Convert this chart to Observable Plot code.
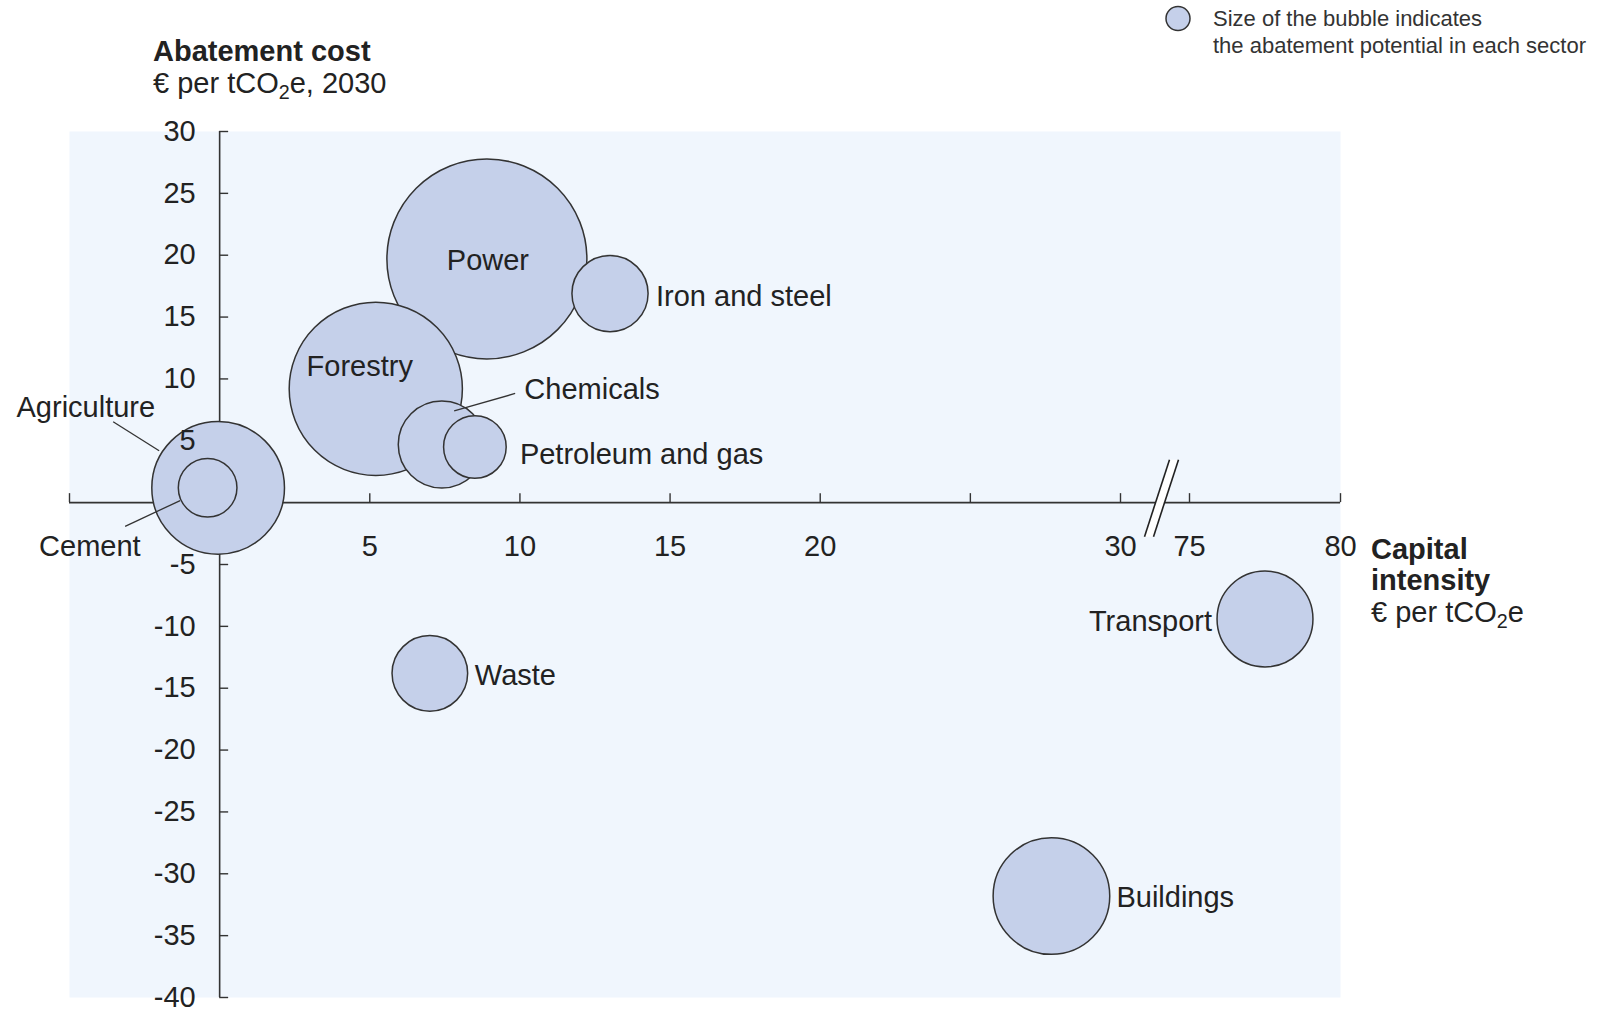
<!DOCTYPE html>
<html>
<head>
<meta charset="utf-8">
<script src="https://cdn.jsdelivr.net/npm/d3@7"></script>
<script src="https://cdn.jsdelivr.net/npm/@observablehq/plot@0.6"></script>
<style>
  html, body { margin: 0; padding: 0; background: #ffffff; }
  body { font-family: "Liberation Sans", Arial, sans-serif; }
  #wrap { position: relative; width: 1602px; height: 1009px; overflow: hidden; }
  #wrap svg.plot { position: absolute; left: 0; top: 0; }
  .t { position: absolute; white-space: nowrap; color: #222; line-height: 1; font-size: 29px; }
  .b { font-weight: bold; }
  .sub { font-size: 0.68em; position: relative; top: 0.3em; }
  .leg { font-size: 22px; color: #333; }
</style>
</head>
<body>
<div id="wrap">
  <div class="t b" style="left:153px; top:37px;">Abatement cost</div>
  <div class="t" style="left:153px; top:69px;">€ per tCO<span class="sub">2</span>e, 2030</div>

  <svg style="position:absolute; left:1160px; top:0px;" width="40" height="40">
    <circle cx="18" cy="18.5" r="12" fill="#c5d0ea" stroke="#333" stroke-width="1.5"></circle>
  </svg>
  <div class="t leg" style="left:1213px; top:8px;">Size of the bubble indicates</div>
  <div class="t leg" style="left:1213px; top:35px;">the abatement potential in each sector</div>

  <div class="t b" style="left:1371px; top:535px;">Capital</div>
  <div class="t b" style="left:1371px; top:566px;">intensity</div>
  <div class="t" style="left:1371px; top:598px;">€ per tCO<span class="sub">2</span>e</div>
</div>
<script>
// ---- data ----
const sectors = ["Power", "Forestry", "Agriculture", "Buildings", "Transport", "Chemicals", "Iron and steel", "Waste", "Petroleum and gas", "Cement"];
const capitalIntensity = [8.9, 5.2, -0.05, 27.7, 77.5, 7.4, 13.0, 7.0, 8.5, -0.4];   // € per tCO2e
const abatementCost = [19.7, 9.2, 1.2, -31.8, -9.4, 4.7, 16.9, -13.8, 4.5, 1.2];      // € per tCO2e, 2030
const abatementPotential = [100, 75, 44, 34, 23, 19, 14.5, 14.3, 9.8, 8.6];           // relative bubble size

const xTicks = [-5, 0, 5, 10, 15, 20, 25, 30, 75, 80];
const xTickLabels = [5, 10, 15, 20, 30, 75, 80];
const yTicks = [30, 25, 20, 15, 10, 5, 0, -5, -10, -15, -20, -25, -30, -35, -40];
const yTickLabels = [30, 25, 20, 15, 10, 5, -5, -10, -15, -20, -25, -30, -35, -40];
const axisBreak = [30, 75];

// ---- label layout (pixel offsets from bubble centre) ----
const labelLayout = {
  "Power":            {anchor: "middle", dx: 1,    dy: 2},
  "Forestry":         {anchor: "middle", dx: -16,  dy: -22},
  "Agriculture":      {anchor: "end",    dx: -63,  dy: -80, leader: [[-58.5, -36.5], [-104.5, -65.5]]},
  "Cement":           {anchor: "end",    dx: -67,  dy: 59,  leader: [[-27, 13.3], [-82, 39]]},
  "Chemicals":        {anchor: "start",  dx: 82.5, dy: -54.5, leader: [[12.8, -33.1], [73.8, -50.5]]},
  "Petroleum and gas":{anchor: "start",  dx: 45,   dy: 7.5},
  "Iron and steel":   {anchor: "start",  dx: 46,   dy: 3},
  "Waste":            {anchor: "start",  dx: 45,   dy: 2},
  "Transport":        {anchor: "end",    dx: -53,  dy: 2.5},
  "Buildings":        {anchor: "start",  dx: 65,   dy: 2}
};

const rows = sectors.map((s, i) => ({sector: s, x: capitalIntensity[i], y: abatementCost[i], potential: abatementPotential[i]}));

const ink = "#222";
const axisInk = "#333";
const bubbleFill = "#c5d0ea";

const overlay = (index, scales) => {
  const g = d3.create("svg:g");
  // leader lines
  for (const d of rows) {
    const L = labelLayout[d.sector];
    if (!L.leader) continue;
    const cx = scales.x(d.x), cy = scales.y(d.y);
    g.append("line")
      .attr("x1", cx + L.leader[0][0]).attr("y1", cy + L.leader[0][1])
      .attr("x2", cx + L.leader[1][0]).attr("y2", cy + L.leader[1][1])
      .attr("stroke", axisInk).attr("stroke-width", 1.3);
  }
  // axis break marks
  const bx = (scales.x(axisBreak[0]) + scales.x(axisBreak[1])) / 2 + 7;
  const by = scales.y(0) - 4;
  const hx = 12.5, hy = 38.5, sep = 4.5;
  g.append("polygon")
    .attr("points", [
      [bx - sep - hx, by + hy], [bx - sep + hx, by - hy],
      [bx + sep + hx, by - hy], [bx + sep - hx, by + hy]
    ].map(p => p.join(",")).join(" "))
    .attr("fill", "#ffffff");
  for (const s of [-sep, sep]) {
    g.append("line")
      .attr("x1", bx + s - hx).attr("y1", by + hy)
      .attr("x2", bx + s + hx).attr("y2", by - hy)
      .attr("stroke", ink).attr("stroke-width", 1.6);
  }
  return g.node();
};

const labelMarks = rows.map(d => {
  const L = labelLayout[d.sector];
  return Plot.text([d], {x: "x", y: "y", text: "sector", textAnchor: L.anchor, dx: L.dx, dy: L.dy, fill: ink, fontSize: 29});
});

const chart = Plot.plot({
  width: 1602,
  height: 1009,
  marginLeft: 69,
  marginRight: 262,
  marginTop: 131,
  marginBottom: 12,
  x: {type: "linear", domain: [-5, 30, 75, 80], range: [69, 1120, 1189, 1340], axis: null},
  y: {domain: [-40, 30], axis: null},
  r: {type: "sqrt", domain: [0, 100], range: [0, 100]},
  style: {fontFamily: '"Liberation Sans", Arial, sans-serif', fontSize: "29px", color: ink, background: "transparent", overflow: "visible"},
  marks: [
    Plot.frame({fill: "#f0f6fd", stroke: null}),
    // axes lines
    Plot.ruleY([0], {x1: -5, x2: 80, stroke: axisInk, strokeWidth: 1.6}),
    Plot.ruleX([0], {y1: -40, y2: 30, stroke: axisInk, strokeWidth: 1.6}),
    // ticks
    Plot.ruleX(xTicks, {x: d => d, y1: 0, y2: 0, insetTop: -9, stroke: axisInk, strokeWidth: 1.4}),
    Plot.ruleY(yTicks, {y: d => d, x1: 0, x2: 0, insetRight: -9, stroke: axisInk, strokeWidth: 1.4}),
    // bubbles
    Plot.dot(rows, {x: "x", y: "y", r: "potential", fill: bubbleFill, fillOpacity: 1, stroke: axisInk, strokeWidth: 1.5}),
    // tick labels
    Plot.text(yTickLabels, {x: 0, y: d => d, text: d => String(d), textAnchor: "end", dx: -24, fill: ink, fontSize: 29}),
    Plot.text(xTickLabels, {x: d => d, y: 0, text: d => String(d), dy: 44, fill: ink, fontSize: 29}),
    ...labelMarks,
    overlay
  ]
});
document.getElementById("wrap").prepend(chart);
</script>
</body>
</html>
